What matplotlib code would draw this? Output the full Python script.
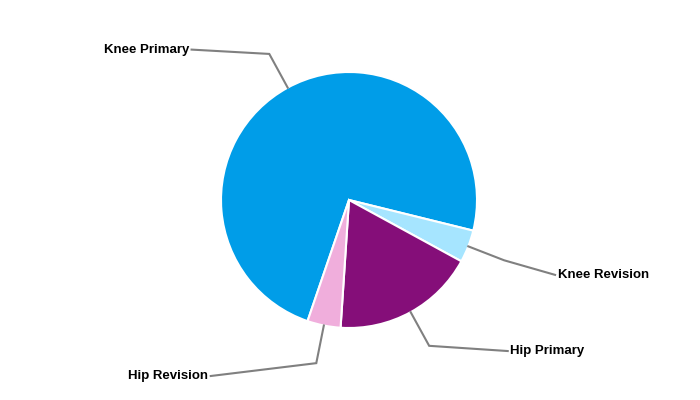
import matplotlib.pyplot as plt
import numpy as np

labels = ["Knee Primary", "Knee Revision", "Hip Primary", "Hip Revision"]
shares = [73.6, 4.1, 18.1, 4.2]
colors = ["#009DE8", "#A6E5FF", "#850E79", "#F0AEDC"]

# label text anchor (data units, pie radius = 1) and alignment
label_pos = [(-1.25, 1.175), (1.63, -0.585), (1.26, -1.18), (-1.10, -1.375)]
label_ha = ["right", "left", "left", "right"]

fig = plt.figure(figsize=(7, 4), dpi=100)
ax = fig.add_axes([0, 0, 1, 1])

start = 251.1
wedges, _ = ax.pie(shares, colors=colors, startangle=start, counterclock=False,
                   radius=1.0, wedgeprops=dict(edgecolor="white", linewidth=1.5))

# pie() resets the limits, so set them afterwards
ax.set_xlim(-349 / 128, 351 / 128)
ax.set_ylim(-200 / 128, 200 / 128)
ax.set_aspect("equal")
ax.axis("off")

for w, lab, (tx, ty), ha in zip(wedges, labels, label_pos, label_ha):
    mid = np.deg2rad((w.theta1 + w.theta2) / 2)
    ex, ey = np.cos(mid), np.sin(mid)
    bx, by = 1.3 * ex, 1.3 * ey
    lx = tx + (0.02 if ha == "right" else -0.02)
    ax.plot([ex, bx, lx], [ey, by, ty], color="#808080", lw=1.5,
            solid_joinstyle="miter")
    ax.text(tx, ty, lab, ha=ha, va="center", fontsize=9.5, fontweight="bold",
            family="Liberation Sans", color="black")

fig.savefig("out.png", dpi=100)
